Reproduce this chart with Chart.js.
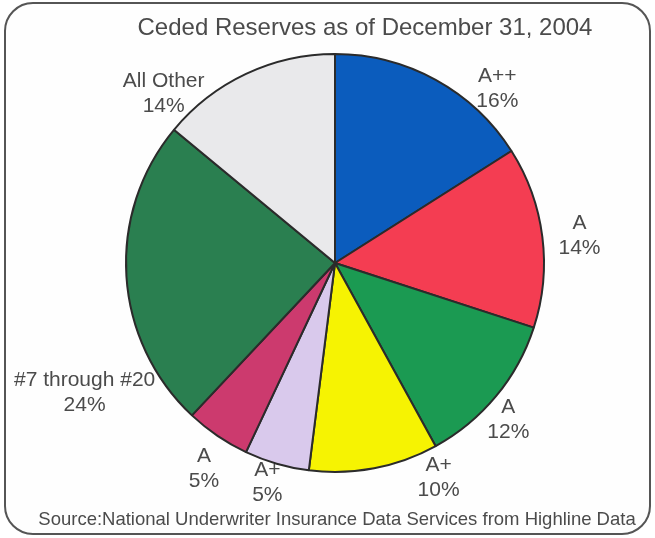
<!DOCTYPE html>
<html>
<head>
<meta charset="utf-8">
<title>Ceded Reserves as of December 31, 2004</title>
<script src="https://cdn.jsdelivr.net/npm/chart.js@4"></script>
<style>
  html, body { margin: 0; padding: 0; background: #ffffff; }
  #wrap { width: 655px; height: 538px; position: relative; }
  canvas { display: block; }
</style>
</head>
<body>
<div id="wrap"><canvas id="chart" width="655" height="538"></canvas></div>
<script>
// Ceded reserves by reinsurer group, share of total (%)
const categories = ['A++', 'A', 'A', 'A+', 'A+', 'A', '#7 through #20', 'All Other'];
const shares = [16, 14, 12, 10, 5, 5, 24, 14];
const sliceColors = ['#0b5cbd', '#f43d52', '#1b9a52', '#f6f302', '#d9c9ec', '#cc3a6e', '#2a7f50', '#e9e9eb'];

const chartTitle = 'Ceded Reserves as of December 31, 2004';
const sourceNote = 'Source:National Underwriter Insurance Data Services from Highline Data';

// Label placement around each slice: [angle shift from slice middle (deg), gap beyond rim (px)]
const labelPlacement = [
  [14.2, 29], [0.9, 37], [2.6, 25], [-15, 29],
  [0.9, 21], [-1.7, 35], [-23.8, 73], [-20.1, 32]
];

const TEXT_COLOR = '#4b4b4b';
const FONT = '"Liberation Sans", Arial, sans-serif';

const framePlugin = {
  id: 'frame',
  beforeDraw(chart) {
    const ctx = chart.ctx;
    ctx.save();
    ctx.fillStyle = '#ffffff';
    ctx.fillRect(0, 0, chart.width, chart.height);
    ctx.beginPath();
    ctx.roundRect(5, 3, 645, 531, 28);
    ctx.fillStyle = '#fefefe';
    ctx.fill();
    ctx.lineWidth = 2;
    ctx.strokeStyle = '#555555';
    ctx.stroke();
    ctx.restore();
  },
  afterDraw(chart) {
    const ctx = chart.ctx;
    ctx.save();
    ctx.fillStyle = TEXT_COLOR;
    ctx.textAlign = 'center';
    ctx.textBaseline = 'middle';
    ctx.font = '24px ' + FONT;
    ctx.fillText(chartTitle, 365, 28);
    ctx.font = '18.5px ' + FONT;
    ctx.fillText(sourceNote, 337, 520);
    ctx.restore();
  }
};

const sliceLabelPlugin = {
  id: 'sliceLabels',
  afterDatasetsDraw(chart) {
    const ctx = chart.ctx;
    const meta = chart.getDatasetMeta(0);
    ctx.save();
    ctx.fillStyle = TEXT_COLOR;
    ctx.textAlign = 'center';
    ctx.textBaseline = 'middle';
    ctx.font = '21px ' + FONT;
    meta.data.forEach((arc, i) => {
      const p = arc.getProps(['x', 'y', 'startAngle', 'endAngle', 'outerRadius'], true);
      const [shift, gap] = labelPlacement[i];
      const a = (p.startAngle + p.endAngle) / 2 + shift * Math.PI / 180;
      const r = p.outerRadius + gap;
      const lx = p.x + Math.cos(a) * r;
      const ly = p.y + Math.sin(a) * r;
      ctx.fillText(categories[i], lx, ly - 12.5);
      ctx.fillText(shares[i] + '%', lx, ly + 12.5);
    });
    ctx.restore();
  }
};

new Chart(document.getElementById('chart'), {
  type: 'pie',
  data: {
    labels: categories,
    datasets: [{
      data: shares,
      backgroundColor: sliceColors,
      borderColor: '#2b2b2b',
      borderWidth: 2,
      hoverBorderWidth: 2,
      hoverOffset: 0
    }]
  },
  options: {
    responsive: false,
    animation: false,
    layout: { padding: { left: 125, right: 110, top: 53, bottom: 65 } },
    plugins: {
      legend: { display: false },
      tooltip: { enabled: false },
      title: { display: false }
    }
  },
  plugins: [framePlugin, sliceLabelPlugin]
});
</script>
</body>
</html>
